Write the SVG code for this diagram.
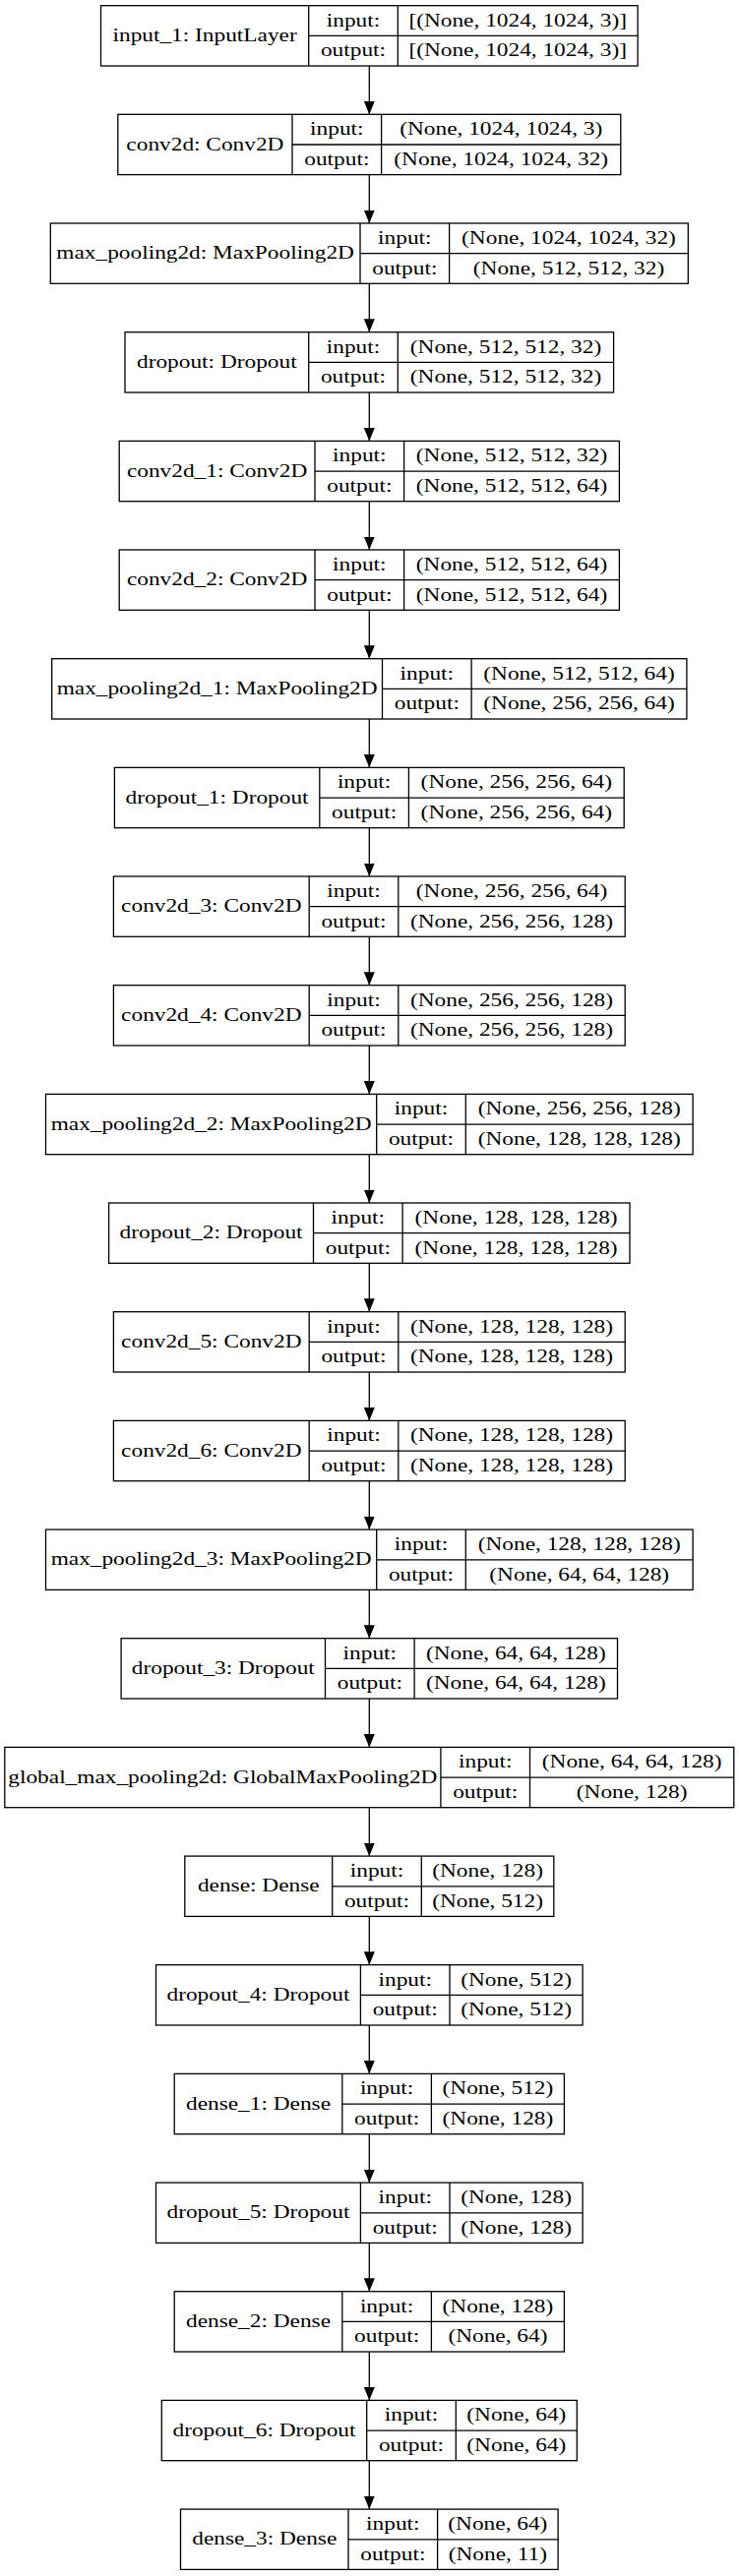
<svg xmlns="http://www.w3.org/2000/svg" width="751" height="2619" viewBox="0 0 751 2619">
<style>
.b{fill:#fff;stroke:#000;stroke-width:1.3}
.d{fill:none;stroke:#000;stroke-width:1.3}
.e{fill:none;stroke:#000;stroke-width:1.3}
text{font-family:"Liberation Serif","Times New Roman",serif;font-size:18.67px;fill:#000;text-anchor:middle}
</style>
<defs>
<marker id="ah" markerWidth="13.5" markerHeight="11" refX="13.5" refY="5.5" orient="auto" markerUnits="userSpaceOnUse" viewBox="0 0 13.5 11"><path d="M0,0 L13.5,5.5 L0,11 z" fill="#000"/></marker>
</defs>
<rect width="751" height="2619" fill="#fff"/>
<g id="connectors">
<line class="e" x1="375.3" y1="67.0" x2="375.3" y2="116.3" marker-end="url(#ah)"/>
<line class="e" x1="375.3" y1="177.6" x2="375.3" y2="227.0" marker-end="url(#ah)"/>
<line class="e" x1="375.3" y1="288.3" x2="375.3" y2="337.7" marker-end="url(#ah)"/>
<line class="e" x1="375.3" y1="399.0" x2="375.3" y2="448.4" marker-end="url(#ah)"/>
<line class="e" x1="375.3" y1="509.7" x2="375.3" y2="559.0" marker-end="url(#ah)"/>
<line class="e" x1="375.3" y1="620.3" x2="375.3" y2="669.7" marker-end="url(#ah)"/>
<line class="e" x1="375.3" y1="731.0" x2="375.3" y2="780.4" marker-end="url(#ah)"/>
<line class="e" x1="375.3" y1="841.7" x2="375.3" y2="891.0" marker-end="url(#ah)"/>
<line class="e" x1="375.3" y1="952.3" x2="375.3" y2="1001.7" marker-end="url(#ah)"/>
<line class="e" x1="375.3" y1="1063.0" x2="375.3" y2="1112.4" marker-end="url(#ah)"/>
<line class="e" x1="375.3" y1="1173.7" x2="375.3" y2="1223.0" marker-end="url(#ah)"/>
<line class="e" x1="375.3" y1="1284.3" x2="375.3" y2="1333.7" marker-end="url(#ah)"/>
<line class="e" x1="375.3" y1="1395.0" x2="375.3" y2="1444.4" marker-end="url(#ah)"/>
<line class="e" x1="375.3" y1="1505.7" x2="375.3" y2="1555.1" marker-end="url(#ah)"/>
<line class="e" x1="375.3" y1="1616.4" x2="375.3" y2="1665.7" marker-end="url(#ah)"/>
<line class="e" x1="375.3" y1="1727.0" x2="375.3" y2="1776.4" marker-end="url(#ah)"/>
<line class="e" x1="375.3" y1="1837.7" x2="375.3" y2="1887.1" marker-end="url(#ah)"/>
<line class="e" x1="375.3" y1="1948.4" x2="375.3" y2="1997.7" marker-end="url(#ah)"/>
<line class="e" x1="375.3" y1="2059.0" x2="375.3" y2="2108.4" marker-end="url(#ah)"/>
<line class="e" x1="375.3" y1="2169.7" x2="375.3" y2="2219.1" marker-end="url(#ah)"/>
<line class="e" x1="375.3" y1="2280.4" x2="375.3" y2="2329.7" marker-end="url(#ah)"/>
<line class="e" x1="375.3" y1="2391.0" x2="375.3" y2="2440.4" marker-end="url(#ah)"/>
<line class="e" x1="375.3" y1="2501.7" x2="375.3" y2="2551.1" marker-end="url(#ah)"/>
</g>

<g id="input_1">
<rect class="b" x="102.5" y="5.7" width="545.6" height="61.3"/>
<path class="d" d="M313.7 5.7V67.0M404.3 5.7V67.0M313.7 36.4H648.1"/>
<text transform="translate(208.1,41.9) scale(1.25,1)">input_1: InputLayer</text>
<text transform="translate(359,26.5) scale(1.25,1)">input:</text>
<text transform="translate(359,57.2) scale(1.25,1)">output:</text>
<text transform="translate(526.2,26.5) scale(1.25,1)">[(None, 1024, 1024, 3)]</text>
<text transform="translate(526.2,57.2) scale(1.25,1)">[(None, 1024, 1024, 3)]</text>
</g>

<g id="conv2d">
<rect class="b" x="119.8" y="116.3" width="511" height="61.3"/>
<path class="d" d="M297 116.3V177.6M387.6 116.3V177.6M297 147.0H630.8"/>
<text transform="translate(208.4,152.5) scale(1.25,1)">conv2d: Conv2D</text>
<text transform="translate(342.3,137.1) scale(1.25,1)">input:</text>
<text transform="translate(342.3,167.8) scale(1.25,1)">output:</text>
<text transform="translate(509.2,137.1) scale(1.25,1)">(None, 1024, 1024, 3)</text>
<text transform="translate(509.2,167.8) scale(1.25,1)">(None, 1024, 1024, 32)</text>
</g>

<g id="max_pooling2d">
<rect class="b" x="51.3" y="227.0" width="648" height="61.3"/>
<path class="d" d="M366 227.0V288.3M456.6 227.0V288.3M366 257.7H699.3"/>
<text transform="translate(208.65,263.2) scale(1.25,1)">max_pooling2d: MaxPooling2D</text>
<text transform="translate(411.3,247.8) scale(1.25,1)">input:</text>
<text transform="translate(411.3,278.5) scale(1.25,1)">output:</text>
<text transform="translate(577.95,247.8) scale(1.25,1)">(None, 1024, 1024, 32)</text>
<text transform="translate(577.95,278.5) scale(1.25,1)">(None, 512, 512, 32)</text>
</g>

<g id="dropout">
<rect class="b" x="127" y="337.7" width="496.6" height="61.3"/>
<path class="d" d="M313.7 337.7V399.0M404.3 337.7V399.0M313.7 368.4H623.6"/>
<text transform="translate(220.35,373.9) scale(1.25,1)">dropout: Dropout</text>
<text transform="translate(359,358.5) scale(1.25,1)">input:</text>
<text transform="translate(359,389.2) scale(1.25,1)">output:</text>
<text transform="translate(513.95,358.5) scale(1.25,1)">(None, 512, 512, 32)</text>
<text transform="translate(513.95,389.2) scale(1.25,1)">(None, 512, 512, 32)</text>
</g>

<g id="conv2d_1">
<rect class="b" x="121.2" y="448.4" width="508.2" height="61.3"/>
<path class="d" d="M320 448.4V509.7M410.6 448.4V509.7M320 479.1H629.4"/>
<text transform="translate(220.6,484.6) scale(1.25,1)">conv2d_1: Conv2D</text>
<text transform="translate(365.3,469.2) scale(1.25,1)">input:</text>
<text transform="translate(365.3,499.9) scale(1.25,1)">output:</text>
<text transform="translate(520,469.2) scale(1.25,1)">(None, 512, 512, 32)</text>
<text transform="translate(520,499.9) scale(1.25,1)">(None, 512, 512, 64)</text>
</g>

<g id="conv2d_2">
<rect class="b" x="121.2" y="559.0" width="508.2" height="61.3"/>
<path class="d" d="M320 559.0V620.3M410.6 559.0V620.3M320 589.7H629.4"/>
<text transform="translate(220.6,595.2) scale(1.25,1)">conv2d_2: Conv2D</text>
<text transform="translate(365.3,579.8) scale(1.25,1)">input:</text>
<text transform="translate(365.3,610.5) scale(1.25,1)">output:</text>
<text transform="translate(520,579.8) scale(1.25,1)">(None, 512, 512, 64)</text>
<text transform="translate(520,610.5) scale(1.25,1)">(None, 512, 512, 64)</text>
</g>

<g id="max_pooling2d_1">
<rect class="b" x="52.7" y="669.7" width="645.2" height="61.3"/>
<path class="d" d="M388.5 669.7V731.0M479.1 669.7V731.0M388.5 700.4H697.9"/>
<text transform="translate(220.6,705.9) scale(1.25,1)">max_pooling2d_1: MaxPooling2D</text>
<text transform="translate(433.8,690.5) scale(1.25,1)">input:</text>
<text transform="translate(433.8,721.2) scale(1.25,1)">output:</text>
<text transform="translate(588.5,690.5) scale(1.25,1)">(None, 512, 512, 64)</text>
<text transform="translate(588.5,721.2) scale(1.25,1)">(None, 256, 256, 64)</text>
</g>

<g id="dropout_1">
<rect class="b" x="116.4" y="780.4" width="517.8" height="61.3"/>
<path class="d" d="M324.8 780.4V841.7M415.4 780.4V841.7M324.8 811.1H634.2"/>
<text transform="translate(220.6,816.6) scale(1.25,1)">dropout_1: Dropout</text>
<text transform="translate(370.1,801.2) scale(1.25,1)">input:</text>
<text transform="translate(370.1,831.9) scale(1.25,1)">output:</text>
<text transform="translate(524.8,801.2) scale(1.25,1)">(None, 256, 256, 64)</text>
<text transform="translate(524.8,831.9) scale(1.25,1)">(None, 256, 256, 64)</text>
</g>

<g id="conv2d_3">
<rect class="b" x="115.4" y="891.0" width="519.8" height="61.3"/>
<path class="d" d="M314.2 891.0V952.3M404.8 891.0V952.3M314.2 921.7H635.2"/>
<text transform="translate(214.8,927.2) scale(1.25,1)">conv2d_3: Conv2D</text>
<text transform="translate(359.5,911.8) scale(1.25,1)">input:</text>
<text transform="translate(359.5,942.5) scale(1.25,1)">output:</text>
<text transform="translate(520,911.8) scale(1.25,1)">(None, 256, 256, 64)</text>
<text transform="translate(520,942.5) scale(1.25,1)">(None, 256, 256, 128)</text>
</g>

<g id="conv2d_4">
<rect class="b" x="115.4" y="1001.7" width="519.8" height="61.3"/>
<path class="d" d="M314.2 1001.7V1063.0M404.8 1001.7V1063.0M314.2 1032.4H635.2"/>
<text transform="translate(214.8,1037.9) scale(1.25,1)">conv2d_4: Conv2D</text>
<text transform="translate(359.5,1022.5) scale(1.25,1)">input:</text>
<text transform="translate(359.5,1053.2) scale(1.25,1)">output:</text>
<text transform="translate(520,1022.5) scale(1.25,1)">(None, 256, 256, 128)</text>
<text transform="translate(520,1053.2) scale(1.25,1)">(None, 256, 256, 128)</text>
</g>

<g id="max_pooling2d_2">
<rect class="b" x="46.5" y="1112.4" width="657.6" height="61.3"/>
<path class="d" d="M382.7 1112.4V1173.7M473.3 1112.4V1173.7M382.7 1143.1H704.1"/>
<text transform="translate(214.6,1148.6) scale(1.25,1)">max_pooling2d_2: MaxPooling2D</text>
<text transform="translate(428,1133.2) scale(1.25,1)">input:</text>
<text transform="translate(428,1163.9) scale(1.25,1)">output:</text>
<text transform="translate(588.7,1133.2) scale(1.25,1)">(None, 256, 256, 128)</text>
<text transform="translate(588.7,1163.9) scale(1.25,1)">(None, 128, 128, 128)</text>
</g>

<g id="dropout_2">
<rect class="b" x="110.6" y="1223.0" width="529.4" height="61.3"/>
<path class="d" d="M318.5 1223.0V1284.3M409.1 1223.0V1284.3M318.5 1253.7H640"/>
<text transform="translate(214.55,1259.2) scale(1.25,1)">dropout_2: Dropout</text>
<text transform="translate(363.8,1243.8) scale(1.25,1)">input:</text>
<text transform="translate(363.8,1274.5) scale(1.25,1)">output:</text>
<text transform="translate(524.55,1243.8) scale(1.25,1)">(None, 128, 128, 128)</text>
<text transform="translate(524.55,1274.5) scale(1.25,1)">(None, 128, 128, 128)</text>
</g>

<g id="conv2d_5">
<rect class="b" x="115.4" y="1333.7" width="519.8" height="61.3"/>
<path class="d" d="M314.2 1333.7V1395.0M404.8 1333.7V1395.0M314.2 1364.4H635.2"/>
<text transform="translate(214.8,1369.9) scale(1.25,1)">conv2d_5: Conv2D</text>
<text transform="translate(359.5,1354.5) scale(1.25,1)">input:</text>
<text transform="translate(359.5,1385.2) scale(1.25,1)">output:</text>
<text transform="translate(520,1354.5) scale(1.25,1)">(None, 128, 128, 128)</text>
<text transform="translate(520,1385.2) scale(1.25,1)">(None, 128, 128, 128)</text>
</g>

<g id="conv2d_6">
<rect class="b" x="115.4" y="1444.4" width="519.8" height="61.3"/>
<path class="d" d="M314.2 1444.4V1505.7M404.8 1444.4V1505.7M314.2 1475.1H635.2"/>
<text transform="translate(214.8,1480.6) scale(1.25,1)">conv2d_6: Conv2D</text>
<text transform="translate(359.5,1465.2) scale(1.25,1)">input:</text>
<text transform="translate(359.5,1495.9) scale(1.25,1)">output:</text>
<text transform="translate(520,1465.2) scale(1.25,1)">(None, 128, 128, 128)</text>
<text transform="translate(520,1495.9) scale(1.25,1)">(None, 128, 128, 128)</text>
</g>

<g id="max_pooling2d_3">
<rect class="b" x="46.5" y="1555.1" width="657.6" height="61.3"/>
<path class="d" d="M382.7 1555.1V1616.4M473.3 1555.1V1616.4M382.7 1585.8H704.1"/>
<text transform="translate(214.6,1591.3) scale(1.25,1)">max_pooling2d_3: MaxPooling2D</text>
<text transform="translate(428,1575.9) scale(1.25,1)">input:</text>
<text transform="translate(428,1606.6) scale(1.25,1)">output:</text>
<text transform="translate(588.7,1575.9) scale(1.25,1)">(None, 128, 128, 128)</text>
<text transform="translate(588.7,1606.6) scale(1.25,1)">(None, 64, 64, 128)</text>
</g>

<g id="dropout_3">
<rect class="b" x="123.1" y="1665.7" width="504.4" height="61.3"/>
<path class="d" d="M330.5 1665.7V1727.0M421.1 1665.7V1727.0M330.5 1696.4H627.5"/>
<text transform="translate(226.8,1701.9) scale(1.25,1)">dropout_3: Dropout</text>
<text transform="translate(375.8,1686.5) scale(1.25,1)">input:</text>
<text transform="translate(375.8,1717.2) scale(1.25,1)">output:</text>
<text transform="translate(524.3,1686.5) scale(1.25,1)">(None, 64, 64, 128)</text>
<text transform="translate(524.3,1717.2) scale(1.25,1)">(None, 64, 64, 128)</text>
</g>

<g id="global_max_pooling2d">
<rect class="b" x="4.8" y="1776.4" width="741" height="61.3"/>
<path class="d" d="M447.9 1776.4V1837.7M538.5 1776.4V1837.7M447.9 1807.1H745.8"/>
<text transform="translate(226.35,1812.6) scale(1.25,1)">global_max_pooling2d: GlobalMaxPooling2D</text>
<text transform="translate(493.2,1797.2) scale(1.25,1)">input:</text>
<text transform="translate(493.2,1827.9) scale(1.25,1)">output:</text>
<text transform="translate(642.15,1797.2) scale(1.25,1)">(None, 64, 64, 128)</text>
<text transform="translate(642.15,1827.9) scale(1.25,1)">(None, 128)</text>
</g>

<g id="dense">
<rect class="b" x="187.8" y="1887.1" width="375" height="61.3"/>
<path class="d" d="M337.7 1887.1V1948.4M428.3 1887.1V1948.4M337.7 1917.8H562.8"/>
<text transform="translate(262.75,1923.3) scale(1.25,1)">dense: Dense</text>
<text transform="translate(383,1907.9) scale(1.25,1)">input:</text>
<text transform="translate(383,1938.6) scale(1.25,1)">output:</text>
<text transform="translate(495.55,1907.9) scale(1.25,1)">(None, 128)</text>
<text transform="translate(495.55,1938.6) scale(1.25,1)">(None, 512)</text>
</g>

<g id="dropout_4">
<rect class="b" x="158.5" y="1997.7" width="433.6" height="61.3"/>
<path class="d" d="M366.4 1997.7V2059.0M457 1997.7V2059.0M366.4 2028.4H592.1"/>
<text transform="translate(262.45,2033.9) scale(1.25,1)">dropout_4: Dropout</text>
<text transform="translate(411.7,2018.5) scale(1.25,1)">input:</text>
<text transform="translate(411.7,2049.2) scale(1.25,1)">output:</text>
<text transform="translate(524.55,2018.5) scale(1.25,1)">(None, 512)</text>
<text transform="translate(524.55,2049.2) scale(1.25,1)">(None, 512)</text>
</g>

<g id="dense_1">
<rect class="b" x="177.2" y="2108.4" width="396.2" height="61.3"/>
<path class="d" d="M347.8 2108.4V2169.7M438.4 2108.4V2169.7M347.8 2139.1H573.4"/>
<text transform="translate(262.5,2144.6) scale(1.25,1)">dense_1: Dense</text>
<text transform="translate(393.1,2129.2) scale(1.25,1)">input:</text>
<text transform="translate(393.1,2159.9) scale(1.25,1)">output:</text>
<text transform="translate(505.9,2129.2) scale(1.25,1)">(None, 512)</text>
<text transform="translate(505.9,2159.9) scale(1.25,1)">(None, 128)</text>
</g>

<g id="dropout_5">
<rect class="b" x="158.5" y="2219.1" width="433.6" height="61.3"/>
<path class="d" d="M366.4 2219.1V2280.4M457 2219.1V2280.4M366.4 2249.8H592.1"/>
<text transform="translate(262.45,2255.3) scale(1.25,1)">dropout_5: Dropout</text>
<text transform="translate(411.7,2239.9) scale(1.25,1)">input:</text>
<text transform="translate(411.7,2270.6) scale(1.25,1)">output:</text>
<text transform="translate(524.55,2239.9) scale(1.25,1)">(None, 128)</text>
<text transform="translate(524.55,2270.6) scale(1.25,1)">(None, 128)</text>
</g>

<g id="dense_2">
<rect class="b" x="177.2" y="2329.7" width="396.2" height="61.3"/>
<path class="d" d="M347.8 2329.7V2391.0M438.4 2329.7V2391.0M347.8 2360.4H573.4"/>
<text transform="translate(262.5,2365.9) scale(1.25,1)">dense_2: Dense</text>
<text transform="translate(393.1,2350.5) scale(1.25,1)">input:</text>
<text transform="translate(393.1,2381.2) scale(1.25,1)">output:</text>
<text transform="translate(505.9,2350.5) scale(1.25,1)">(None, 128)</text>
<text transform="translate(505.9,2381.2) scale(1.25,1)">(None, 64)</text>
</g>

<g id="dropout_6">
<rect class="b" x="164.3" y="2440.4" width="422" height="61.3"/>
<path class="d" d="M372.7 2440.4V2501.7M463.3 2440.4V2501.7M372.7 2471.1H586.3"/>
<text transform="translate(268.5,2476.6) scale(1.25,1)">dropout_6: Dropout</text>
<text transform="translate(418,2461.2) scale(1.25,1)">input:</text>
<text transform="translate(418,2491.9) scale(1.25,1)">output:</text>
<text transform="translate(524.8,2461.2) scale(1.25,1)">(None, 64)</text>
<text transform="translate(524.8,2491.9) scale(1.25,1)">(None, 64)</text>
</g>

<g id="dense_3">
<rect class="b" x="183.5" y="2551.1" width="383.6" height="61.3"/>
<path class="d" d="M354 2551.1V2612.4M444.6 2551.1V2612.4M354 2581.8H567.1"/>
<text transform="translate(268.75,2587.3) scale(1.25,1)">dense_3: Dense</text>
<text transform="translate(399.3,2571.9) scale(1.25,1)">input:</text>
<text transform="translate(399.3,2602.6) scale(1.25,1)">output:</text>
<text transform="translate(505.85,2571.9) scale(1.25,1)">(None, 64)</text>
<text transform="translate(505.85,2602.6) scale(1.25,1)">(None, 11)</text>
</g>
</svg>
